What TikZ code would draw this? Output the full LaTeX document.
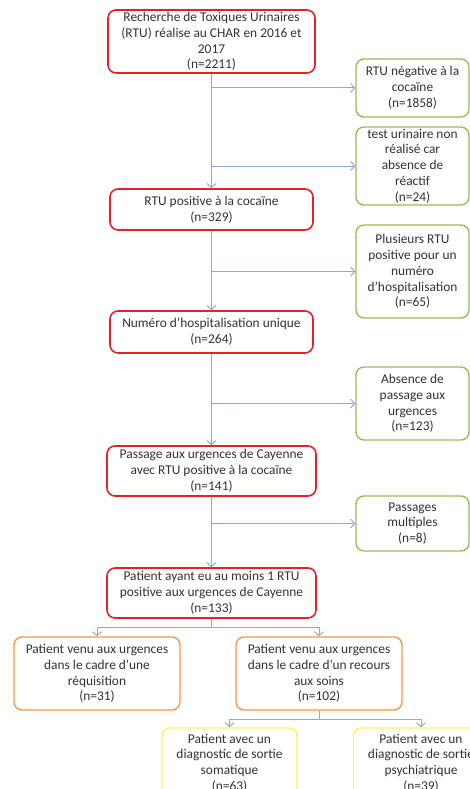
\documentclass[tikz,border=0pt]{standalone}
\usepackage{fontspec}
\setmainfont{Carlito}
\usetikzlibrary{arrows.meta}

\definecolor{boxred}{RGB}{228,32,40}
\definecolor{boxgreen}{RGB}{155,187,89}
\definecolor{boxorange}{RGB}{247,150,70}
\definecolor{boxyellow}{RGB}{250,245,100}
\definecolor{linkblue}{RGB}{140,172,212}
\definecolor{txtgray}{RGB}{50,50,50}

\tikzset{
  box/.style={draw, rounded corners=8pt, align=center, text=txtgray,
    font=\fontsize{13.4}{15.8}\selectfont, inner sep=1pt},
  redbox/.style={box, draw=boxred, line width=1.6pt},
  greenbox/.style={box, draw=boxgreen, line width=1.4pt, minimum width=113pt},
  orangebox/.style={box, draw=boxorange, line width=1.4pt, minimum width=166pt, minimum height=73pt},
  yellowbox/.style={box, draw=boxyellow, line width=1.4pt, minimum width=135pt, minimum height=70pt},
  link/.style={draw=linkblue, line width=1pt, -{Straight Barb[length=4pt,width=9pt]}}
}

\begin{document}
\begin{tikzpicture}[x=1pt,y=-1pt]

% Page frame (pixel units)
\useasboundingbox (0,0) rectangle (470,789);
\clip (0,0) rectangle (470,789);

% Main chain of red boxes
\node[redbox, minimum width=207pt, minimum height=63pt] (r1) at (211.5,41.5)
  {Recherche de Toxiques Urinaires\\(RTU) réalise au CHAR en 2016 et\\2017\\(n=2211)};
\node[redbox, minimum width=203pt, minimum height=41pt] (r2) at (211.5,209.5)
  {RTU positive à la cocaïne\\(n=329)};
\node[redbox, minimum width=203pt, minimum height=42pt] (r3) at (211.5,332)
  {Numéro d’hospitalisation unique\\(n=264)};
\node[redbox, minimum width=209pt, minimum height=50pt] (r4) at (211.5,471)
  {Passage aux urgences de Cayenne\\avec RTU positive à la cocaïne\\(n=141)};
\node[redbox, minimum width=209pt, minimum height=50pt] (r5) at (211.5,593)
  {Patient ayant eu au moins 1 RTU\\positive aux urgences de Cayenne\\(n=133)};

% Excluded boxes on the right
\node[greenbox, minimum height=58pt] (g1) at (412.5,88)
  {RTU négative à la\\cocaïne\\(n=1858)};
\node[greenbox, minimum height=78pt] (g2) at (412.5,166)
  {test urinaire non\\réalisé car\\absence de\\réactif\\(n=24)};
\node[greenbox, minimum height=93pt] (g3) at (412.5,271.5)
  {Plusieurs RTU\\positive pour un\\numéro\\d’hospitalisation\\(n=65)};
\node[greenbox, minimum height=73pt] (g4) at (412.5,403.5)
  {Absence de\\passage aux\\urgences\\(n=123)};
\node[greenbox, minimum height=55pt] (g5) at (412.5,523.5)
  {Passages\\multiples\\(n=8)};

% Lower split
\node[orangebox] (o1) at (97,673.5)
  {Patient venu aux urgences\\dans le cadre d’une\\réquisition\\(n=31)};
\node[orangebox] (o2) at (319,673.5)
  {Patient venu aux urgences\\dans le cadre d’un recours\\aux soins\\(n=102)};
\node[yellowbox] (y1) at (229.5,763)
  {Patient avec un\\diagnostic de sortie\\somatique\\(n=63)};
\node[yellowbox] (y2) at (421,763)
  {Patient avec un\\diagnostic de sortie\\psychiatrique\\(n=39)};

% Trunk arrows
\foreach \a/\b in {r1/r2, r2/r3, r3/r4, r4/r5} {
  \draw[link] (\a.south) -- (\b.north);
}

% Side arrows to the excluded boxes
\foreach \a/\g in {r1/g1, r1/g2, r2/g3, r3/g4, r4/g5} {
  \draw[link] (\a.south |- \g.west) -- (\g.west);
}

% Branches
\draw[link] (r5.south) -- ++(0,9) -| (o1.north);
\draw[link] (r5.south) -- ++(0,9) -| (o2.north);
\draw[link] (o2.south) -- ++(0,9) -| (y1.north);
\draw[link] (o2.south) -- ++(0,9) -| (y2.north);

\end{tikzpicture}
\end{document}
